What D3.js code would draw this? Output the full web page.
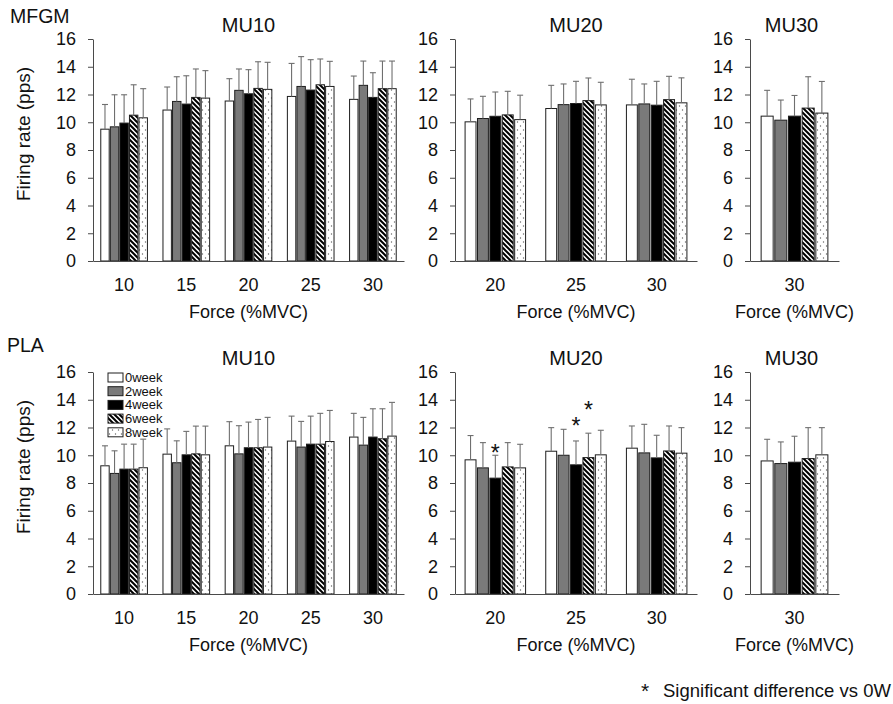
<!DOCTYPE html>
<html>
<head>
<meta charset="utf-8">
<script src="https://cdn.jsdelivr.net/npm/d3@7/dist/d3.min.js"></script>
<style>
  html, body { margin: 0; padding: 0; background: #fff; }
  svg { display: block; font-family: "Liberation Sans", Arial, sans-serif; }
</style>
</head>
<body>
<svg id="chart" width="893" height="704"></svg>
<script>
// ---------------- DATA ----------------
const weeks = ["0week", "2week", "4week", "6week", "8week"];
const forcesMU10 = ["10", "15", "20", "25", "30"];
const forcesMU20 = ["20", "25", "30"];
const forcesMU30 = ["30"];
const yTicks = [0, 2, 4, 6, 8, 10, 12, 14, 16];
const groupLabels = ["MFGM", "PLA"];
const panelTitles = ["MU10", "MU20", "MU30"];
const xTitle = "Force (%MVC)";
const yTitle = "Firing rate (pps)";
const footnote = "Significant difference vs 0W";

// means (rows = force level, columns = weeks)
const mfgmMU10Mean = [
  [9.50, 9.67, 9.94, 10.51, 10.32],
  [10.88, 11.50, 11.31, 11.79, 11.74],
  [11.53, 12.30, 12.05, 12.44, 12.37],
  [11.86, 12.58, 12.32, 12.70, 12.58],
  [11.65, 12.66, 11.79, 12.42, 12.42]
];
const mfgmMU10SD = [
  [1.78, 2.31, 2.04, 2.19, 2.10],
  [1.66, 1.78, 2.04, 2.05, 1.98],
  [1.61, 1.54, 1.74, 1.92, 1.95],
  [2.38, 2.15, 2.19, 1.86, 1.81],
  [1.68, 1.75, 1.78, 1.99, 1.99]
];
const mfgmMU20Mean = [
  [10.03, 10.27, 10.43, 10.53, 10.19],
  [10.99, 11.27, 11.35, 11.56, 11.25],
  [11.25, 11.32, 11.23, 11.63, 11.40]
];
const mfgmMU20SD = [
  [1.65, 1.60, 1.75, 1.70, 1.76],
  [1.67, 1.49, 1.60, 1.63, 1.63],
  [1.85, 1.44, 1.72, 1.68, 1.80]
];
const mfgmMU30Mean = [[10.44, 10.15, 10.44, 11.02, 10.66]];
const mfgmMU30SD = [[1.86, 1.45, 1.49, 2.26, 2.28]];

const plaMU10Mean = [
  [9.24, 8.69, 9.00, 9.00, 9.10],
  [10.08, 9.46, 10.03, 10.10, 10.03],
  [10.68, 10.10, 10.54, 10.54, 10.59],
  [11.02, 10.59, 10.80, 10.80, 10.99],
  [11.31, 10.73, 11.31, 11.19, 11.38]
];
const plaMU10SD = [
  [1.44, 1.63, 1.80, 1.80, 2.06],
  [1.82, 1.58, 1.69, 2.00, 2.07],
  [1.74, 2.03, 1.85, 2.04, 2.14],
  [1.80, 1.85, 2.02, 2.22, 2.24],
  [1.71, 2.00, 2.04, 2.16, 2.43]
];
const plaMU20Mean = [
  [9.67, 9.09, 8.35, 9.16, 9.09],
  [10.29, 10.00, 9.31, 9.83, 10.03],
  [10.51, 10.17, 9.81, 10.31, 10.15]
];
const plaMU20SD = [
  [1.75, 1.82, 1.65, 1.75, 1.70],
  [1.70, 1.87, 1.72, 1.76, 1.77],
  [1.60, 2.06, 1.63, 1.80, 1.84]
];
const plaMU30Mean = [[9.59, 9.40, 9.50, 9.76, 10.03]];
const plaMU30SD = [[1.56, 1.56, 1.87, 2.23, 1.96]];

// significance markers (PLA, MU20): force, week, level of asterisk
const sigForce = ["20", "25", "25"];
const sigWeek = ["4week", "4week", "6week"];
const sigLevel = [10.55, 12.45, 13.6];

// ---------------- DRAWING ----------------
const svg = d3.select("#chart");
const defs = svg.append("defs");

// stripe pattern (\\\)
const stripe = defs.append("pattern")
  .attr("id", "stripe").attr("patternUnits", "userSpaceOnUse")
  .attr("width", 5).attr("height", 5);
stripe.append("rect").attr("width", 5).attr("height", 5).attr("fill", "#fff");
stripe.append("path")
  .attr("d", "M-1,-1 L6,6 M-1,4 L1,6 M4,-1 L6,1")
  .attr("stroke", "#000").attr("stroke-width", 2);

// dotted pattern
const dots = defs.append("pattern")
  .attr("id", "dots").attr("patternUnits", "userSpaceOnUse")
  .attr("width", 6).attr("height", 8);
dots.append("rect").attr("width", 6).attr("height", 8).attr("fill", "#fff");
dots.append("circle").attr("cx", 1.5).attr("cy", 2).attr("r", 0.7).attr("fill", "#666");
dots.append("circle").attr("cx", 4.5).attr("cy", 6).attr("r", 0.7).attr("fill", "#666");

const fills = d3.scaleOrdinal().domain(weeks)
  .range(["#ffffff", "#7a7a7a", "#000000", "url(#stripe)", "url(#dots)"]);

const rows = [
  { label: groupLabels[0], top: 39, bottom: 261, labelY: 23,
    panels: [[forcesMU10, mfgmMU10Mean, mfgmMU10SD], [forcesMU20, mfgmMU20Mean, mfgmMU20SD], [forcesMU30, mfgmMU30Mean, mfgmMU30SD]] },
  { label: groupLabels[1], top: 372, bottom: 594, labelY: 352,
    panels: [[forcesMU10, plaMU10Mean, plaMU10SD], [forcesMU20, plaMU20Mean, plaMU20SD], [forcesMU30, plaMU30Mean, plaMU30SD]] }
];
const cols = [[93, 404], [455, 697], [750, 839]];

const textColor = "#111";
const axisColor = "#4a4a4a";

rows.forEach((row, ri) => {
  svg.append("text")
    .attr("x", ri === 0 ? 10 : 7).attr("y", row.labelY)
    .attr("font-size", 19.5).attr("fill", textColor)
    .text(row.label);

  const y = d3.scaleLinear().domain([0, 16]).range([row.bottom, row.top]);

  // y title (left column only)
  svg.append("text")
    .attr("transform", `translate(30, ${(row.top + row.bottom) / 2 - 16}) rotate(-90)`)
    .attr("text-anchor", "middle").attr("font-size", 19).attr("fill", textColor)
    .text(yTitle);

  row.panels.forEach((p, ci) => {
    const [forces, means, sds] = p;
    const [x0, x1] = cols[ci];
    const g = svg.append("g");

    const xg = d3.scaleBand().domain(forces).range([x0, x1])
      .paddingInner(0.25).paddingOuter(0.125);
    const xs = d3.scaleBand().domain(weeks).range([0, xg.bandwidth()]).paddingInner(0.12);

    // panel title
    g.append("text")
      .attr("x", (x0 + x1) / 2 - (ci === 2 ? 3 : 0)).attr("y", row.top - 7)
      .attr("text-anchor", "middle").attr("font-size", 20).attr("fill", textColor)
      .text(panelTitles[ci]);

    // y axis
    const ya = g.append("g").attr("transform", `translate(${x0},0)`)
      .call(d3.axisLeft(y).tickValues(yTicks).tickSize(5).tickSizeOuter(0).tickPadding(12));
    ya.select(".domain").attr("stroke", axisColor);
    ya.selectAll(".tick line").attr("stroke", axisColor);
    ya.selectAll(".tick text").attr("font-size", 18).attr("fill", textColor)
      .attr("font-family", "Liberation Sans, Arial, sans-serif");

    // bars
    const data = [];
    forces.forEach((f, fi) => weeks.forEach((w, wi) => {
      data.push({ f, w, m: means[fi][wi], sd: sds[fi][wi] });
    }));

    g.append("g").selectAll("rect").data(data).join("rect")
      .attr("x", d => xg(d.f) + xs(d.w))
      .attr("y", d => y(d.m))
      .attr("width", xs.bandwidth())
      .attr("height", d => y(0) - y(d.m))
      .attr("fill", d => fills(d.w))
      .attr("stroke", "#1e1e1e").attr("stroke-width", 1);

    // error bars
    const eb = g.append("g").attr("stroke", "#6f6f6f").attr("stroke-width", 1.1);
    eb.selectAll("line.v").data(data).join("line").attr("class", "v")
      .attr("x1", d => xg(d.f) + xs(d.w) + xs.bandwidth() / 2)
      .attr("x2", d => xg(d.f) + xs(d.w) + xs.bandwidth() / 2)
      .attr("y1", d => y(d.m))
      .attr("y2", d => y(d.m + d.sd));
    eb.selectAll("line.c").data(data).join("line").attr("class", "c")
      .attr("x1", d => xg(d.f) + xs(d.w) + xs.bandwidth() / 2 - 3)
      .attr("x2", d => xg(d.f) + xs(d.w) + xs.bandwidth() / 2 + 3)
      .attr("y1", d => y(d.m + d.sd))
      .attr("y2", d => y(d.m + d.sd));

    // x axis
    const xa = g.append("g").attr("transform", `translate(0,${row.bottom})`)
      .call(d3.axisBottom(xg).tickSize(0).tickPadding(17));
    xa.select(".domain").attr("stroke", axisColor);
    xa.selectAll(".tick text").attr("font-size", 18).attr("fill", textColor)
      .attr("font-family", "Liberation Sans, Arial, sans-serif");

    // x title
    g.append("text")
      .attr("x", (x0 + x1) / 2).attr("y", row.bottom + 57)
      .attr("text-anchor", "middle").attr("font-size", 18).attr("fill", textColor)
      .text(xTitle);

    // significance asterisks
    if (ri === 1 && ci === 1) {
      sigForce.forEach((f, i) => {
        g.append("text")
          .attr("x", xg(f) + xs(sigWeek[i]) + xs.bandwidth() / 2)
          .attr("y", y(sigLevel[i]) + 13)
          .attr("text-anchor", "middle").attr("font-size", 23).attr("fill", textColor)
          .text("*");
      });
    }

    // legend (PLA MU10)
    if (ri === 1 && ci === 0) {
      const lg = g.append("g");
      weeks.forEach((w, i) => {
        const ly = 377.5 + i * 13.7;
        lg.append("rect").attr("x", 108).attr("y", ly - 4.5).attr("width", 15).attr("height", 9)
          .attr("fill", fills(w)).attr("stroke", "#1e1e1e").attr("stroke-width", 1);
        lg.append("text").attr("x", 125).attr("y", ly + 4.5)
          .attr("font-size", 13).attr("fill", textColor).text(w);
      });
    }
  });
});

// footnote
svg.append("text").attr("x", 645).attr("y", 698)
  .attr("text-anchor", "middle").attr("font-size", 21).attr("fill", textColor).text("*");
svg.append("text").attr("x", 663).attr("y", 697)
  .attr("font-size", 18.5).attr("fill", textColor).text(footnote);
</script>
</body>
</html>
